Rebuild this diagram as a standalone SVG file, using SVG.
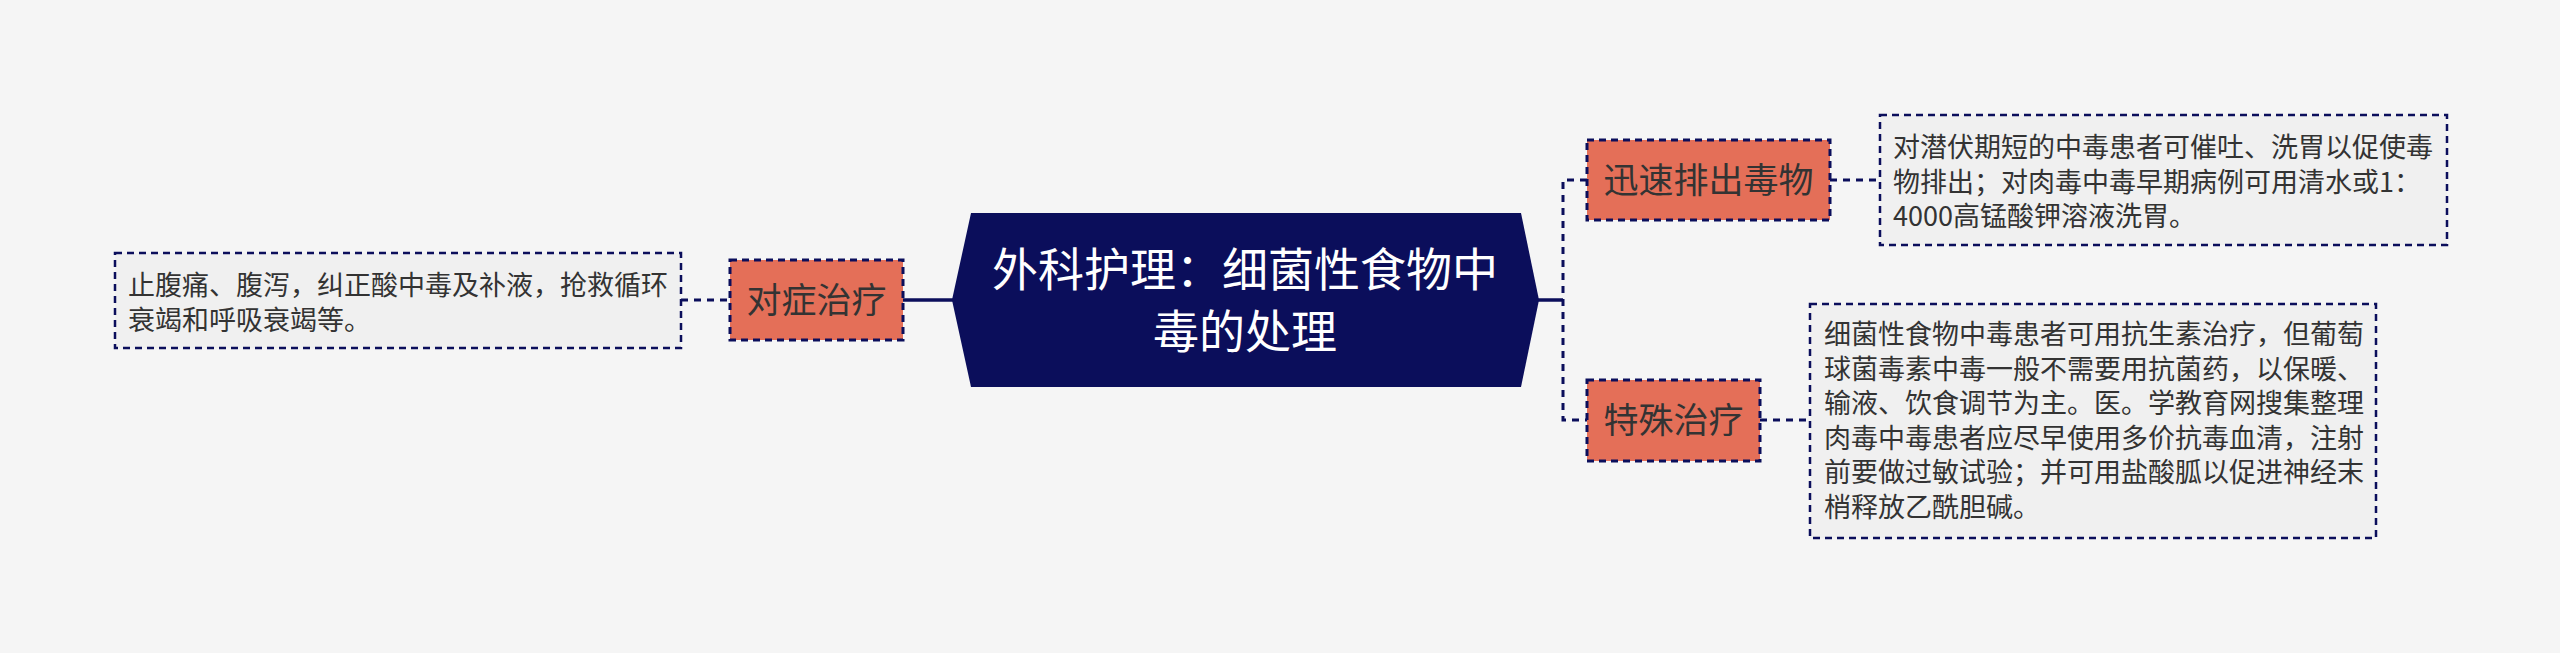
<svg xmlns="http://www.w3.org/2000/svg" width="2560" height="653" viewBox="0 0 2560 653">
<style>
.bg{fill:#f5f5f5}
.root{fill:#0b0e5b}
.branch{fill:#e46f58;stroke:#0b0e5b;stroke-width:3;stroke-dasharray:7 5}
.desc{fill:#f0f0f0;stroke:#0b0e5b;stroke-width:2.5;stroke-dasharray:7 5}
.t{font-family:"Noto Sans CJK SC","Noto Sans",sans-serif}
.tr{fill:#ffffff;font-size:46px;text-anchor:middle}
.tb{fill:#333333;font-size:35px;text-anchor:middle}
.td{fill:#333333;font-size:27px}
.solid{fill:none;stroke:#0b0e5b;stroke-width:3.5}
.dash{fill:none;stroke:#0b0e5b;stroke-width:3;stroke-dasharray:7 6}
</style>
<rect class="bg" x="0" y="0" width="2560" height="653"/>
<g id="connectors">
<line class="solid" x1="903" y1="300" x2="954" y2="300"/>
<line class="dash" x1="681" y1="300" x2="730" y2="300"/>
<line class="solid" x1="1537" y1="300" x2="1563" y2="300"/>
<path class="dash" d="M1587,180 H1563 V420 H1587"/>
<line class="dash" x1="1830" y1="180" x2="1880" y2="180"/>
<line class="dash" x1="1760" y1="420" x2="1810" y2="420"/>
</g>
<g id="root">
<polygon class="root" points="952,300 971,213 1521,213 1539,300 1521,387 971,387"/>
<text class="t tr" x="1245" y="286">外科护理：细菌性食物中</text>
<text class="t tr" x="1245" y="348">毒的处理</text>
</g>
<g id="branch-duizheng">
<rect class="branch" x="730" y="260" width="173" height="80"/>
<text class="t tb" x="816.5" y="313">对症治疗</text>
</g>
<g id="desc-duizheng">
<rect class="desc" x="115" y="253" width="566" height="95"/>
<text class="t td" x="128" y="295">止腹痛、腹泻，纠正酸中毒及补液，抢救循环</text>
<text class="t td" x="128" y="329.5">衰竭和呼吸衰竭等。</text>
</g>
<g id="branch-xunsu">
<rect class="branch" x="1587" y="140" width="243" height="80"/>
<text class="t tb" x="1708.5" y="193">迅速排出毒物</text>
</g>
<g id="desc-xunsu">
<rect class="desc" x="1880" y="115" width="567" height="130"/>
<text class="t td" x="1893" y="157">对潜伏期短的中毒患者可催吐、洗胃以促使毒</text>
<text class="t td" x="1893" y="191.5">物排出；对肉毒中毒早期病例可用清水或1：</text>
<text class="t td" x="1893" y="226">4000高锰酸钾溶液洗胃。</text>
</g>
<g id="branch-teshu">
<rect class="branch" x="1587" y="380" width="173" height="81"/>
<text class="t tb" x="1673.5" y="433">特殊治疗</text>
</g>
<g id="desc-teshu">
<rect class="desc" x="1810" y="304" width="566" height="234"/>
<text class="t td" x="1824" y="344">细菌性食物中毒患者可用抗生素治疗，但葡萄</text>
<text class="t td" x="1824" y="378.5">球菌毒素中毒一般不需要用抗菌药，以保暖、</text>
<text class="t td" x="1824" y="413">输液、饮食调节为主。医。学教育网搜集整理</text>
<text class="t td" x="1824" y="447.5">肉毒中毒患者应尽早使用多价抗毒血清，注射</text>
<text class="t td" x="1824" y="482">前要做过敏试验；并可用盐酸胍以促进神经末</text>
<text class="t td" x="1824" y="516.5">梢释放乙酰胆碱。</text>
</g>
</svg>
